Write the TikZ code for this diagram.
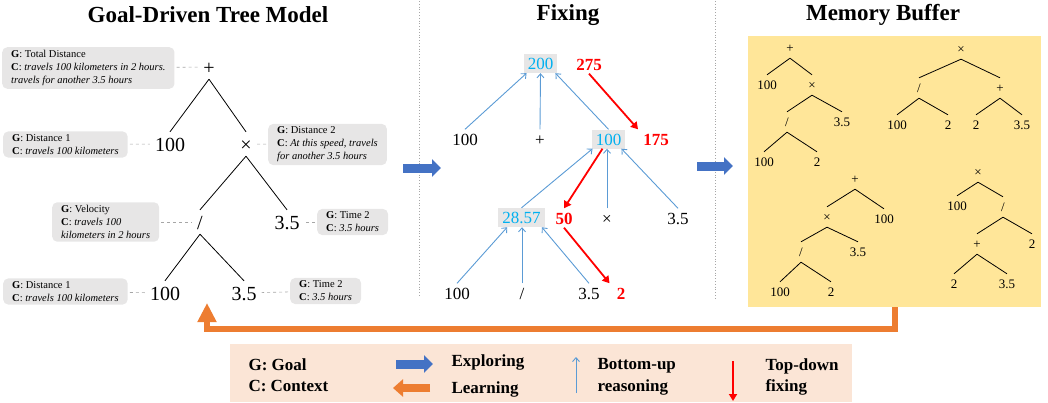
\documentclass[tikz,border=0pt]{standalone}
\usepackage{fontspec}
\setmainfont{Liberation Serif}
\usetikzlibrary{arrows.meta,positioning}

\definecolor{goalgray}{HTML}{E7E6E6}
\definecolor{valblue}{HTML}{00B0F0}
\definecolor{reasonblue}{HTML}{5B9BD5}
\definecolor{exploreblue}{HTML}{4472C4}
\definecolor{learnorange}{HTML}{ED7D31}
\definecolor{bufyellow}{HTML}{FFE699}
\definecolor{legendpeach}{HTML}{FBE5D6}
\definecolor{dashgray}{HTML}{A6A6A6}

\newcommand{\setfs}[2]{\fontsize{#1}{#2}\selectfont}

\begin{document}
\begin{tikzpicture}[x=1pt,y=-1pt]
  \useasboundingbox (0,0) rectangle (1048,402);
  \tikzstyle{title}=[font=\setfs{23}{27}\bfseries]
  \tikzstyle{tree node}=[font=\setfs{20}{24},inner xsep=0pt,inner ysep=5pt,text height=14pt,text depth=0pt]
  \tikzstyle{tree edge}=[line width=0.8pt]
  \tikzstyle{goal box}=[fill=goalgray,rounded corners=5pt,align=left,inner xsep=9pt,inner ysep=3pt,font=\setfs{10.5}{13}]
  \tikzstyle{goal link}=[draw=dashgray,dashed,line width=0.6pt,shorten <=2pt,shorten >=5pt]
  \tikzstyle{mid node}=[font=\setfs{17}{20},inner xsep=4pt,inner ysep=3.5pt,text height=12pt,text depth=0pt]
  \tikzstyle{value box}=[mid node,fill=goalgray,text=valblue]
  \tikzstyle{fix val}=[mid node,text=red,font=\setfs{17}{20}\bfseries]
  \tikzstyle{reason}=[draw=reasonblue,line width=0.9pt,-{Straight Barb[length=4pt,width=7pt]}]
  \tikzstyle{fix}=[draw=red,line width=1.8pt,-{Triangle[length=7pt,width=8pt]}]
  \tikzstyle{explore arrow}=[draw=exploreblue,line width=9pt,-{Triangle[length=9pt,width=17pt]}]
  \tikzstyle{learn arrow}=[draw=learnorange,line width=6pt,line join=miter,-{Triangle[length=19pt,width=18pt]}]
  \tikzstyle{mem node}=[font=\setfs{13}{15},inner xsep=0pt,inner ysep=5.5pt,text height=9pt,text depth=0pt]
  \tikzstyle{mem edge}=[line width=0.8pt]
  \tikzstyle{legend text}=[font=\setfs{17}{21.5}\bfseries,align=left]

  % panels
  \node[fill=bufyellow,inner sep=0pt,anchor=north west,minimum width=293pt,minimum height=271pt] (buffer) at (748,36) {};
  \node[fill=legendpeach,inner sep=0pt,anchor=north west,minimum width=622pt,minimum height=58pt] (legend) at (230,344) {};
  \draw[dashgray,dotted,line width=0.8pt] (419,1) -- (419,296);
  \draw[dashgray,dotted,line width=0.8pt] (715,1) -- (715,298);

  \node[title] (ttree) at (208,15) {Goal-Driven Tree Model};
  \node[title] (tfix) at (568,15) {Fixing};
  \node[title] (tbuf) at (883,15) {Memory Buffer};

  % goal-driven tree
  \node[tree node] (gplus) at (209,67) {+};
  \node[tree node] (g100a) at (170,144) {100};
  \node[tree node] (gtimes) at (246,144) {×};
  \node[tree node] (gdiv) at (200,222) {/};
  \node[tree node] (g35a) at (287,222) {3.5};
  \node[tree node] (g100b) at (165,293) {100};
  \node[tree node] (g35b) at (244,293) {3.5};
  \foreach \a/\b in {gplus/g100a,gplus/gtimes,gtimes/gdiv,gtimes/g35a,gdiv/g100b,gdiv/g35b}
    \draw[tree edge] (\a.south) -- (\b.north);

  \node[goal box,anchor=west] (ctotal) at (2,68) {\textbf{G}: Total Distance\\\textbf{C}: \textit{travels 100 kilometers in 2 hours.}\\\textit{travels for another 3.5 hours}};
  \node[goal box,anchor=west] (cdista) at (3,144.5) {\textbf{G}: Distance 1\\\textbf{C}: \textit{travels 100 kilometers}};
  \node[goal box,anchor=west] (cdistb) at (268,144.5) {\textbf{G}: Distance 2\\\textbf{C}: \textit{At this speed, travels}\\\textit{for another 3.5 hours}};
  \node[goal box,anchor=west] (cvel) at (52,222) {\textbf{G}: Velocity\\\textbf{C}: \textit{travels 100}\\\textit{kilometers in 2 hours}};
  \node[goal box,anchor=west] (ctimea) at (317,222) {\textbf{G}: Time 2\\\textbf{C}: \textit{3.5 hours}};
  \node[goal box,anchor=west] (cdistc) at (3,291.5) {\textbf{G}: Distance 1\\\textbf{C}: \textit{travels 100 kilometers}};
  \node[goal box,anchor=west] (ctimeb) at (290,291) {\textbf{G}: Time 2\\\textbf{C}: \textit{3.5 hours}};
  \draw[goal link] (ctotal) -- (gplus);
  \draw[goal link] (cdista) -- (g100a);
  \draw[goal link] (cdistb) -- (gtimes);
  \draw[goal link] (cvel) -- (gdiv);
  \draw[goal link] (ctimea) -- (g35a);
  \draw[goal link] (cdistc) -- (g100b);
  \draw[goal link] (ctimeb) -- (g35b);

  % fixing
  \node[value box] (f200) at (540.5,63.5) {200};
  \node[fix val] (f275) at (589,64) {275};
  \node[mid node] (f100a) at (465,139) {100};
  \node[mid node] (fplus) at (540,139) {+};
  \node[value box] (f100v) at (608.5,139) {100};
  \node[fix val] (f175) at (656,139) {175};
  \node[value box] (f2857) at (521.5,217.5) {28.57};
  \node[fix val] (f50) at (564,218) {50};
  \node[mid node] (ftimes) at (607,218) {×};
  \node[mid node] (f35a) at (678,218) {3.5};
  \node[mid node] (f100b) at (457,293) {100};
  \node[mid node] (fdiv) at (522,293) {/};
  \node[mid node] (f35b) at (589,293) {3.5};
  \node[fix val] (f2) at (621,293) {2};

  \draw[reason] (f100a.north) -- ([xshift=3pt]f200.south west);
  \draw[reason] (fplus.north) -- (f200.south);
  \draw[reason] (f100v.north) -- ([xshift=-2pt]f200.south east);
  \draw[reason] (f2857.north) -- ([xshift=1pt]f100v.south west);
  \draw[reason] (ftimes.north) -- (ftimes.north |- f100v.south);
  \draw[reason] (f35a.north) -- ([xshift=-4pt]f100v.south east);
  \draw[reason] (f100b.north) -- ([xshift=9pt]f2857.south west);
  \draw[reason] (fdiv.north) -- (fdiv.north |- f2857.south);
  \draw[reason] (f35b.north) -- ([xshift=-3pt]f2857.south east);
  \draw[fix] (f275.south) -- ([xshift=-1pt]f175.north west);
  \draw[fix] ([xshift=-6pt]f100v.south) -- (f50.north);
  \draw[fix] (f50.south) -- ([xshift=-3pt]f2.north west);

  % memory buffer
  \node[mem node] (ma1) at (790,48) {+};
  \node[mem node] (ma2) at (767,85) {100};
  \node[mem node] (ma3) at (812,85) {×};
  \node[mem node] (ma4) at (787,122) {/};
  \node[mem node] (ma5) at (842,122) {3.5};
  \node[mem node] (ma6) at (764,162) {100};
  \node[mem node] (ma7) at (817,162) {2};

  \node[mem node] (mb1) at (961,49) {×};
  \node[mem node] (mb2) at (919,88) {/};
  \node[mem node] (mb3) at (1000,88) {+};
  \node[mem node] (mb4) at (897,125) {100};
  \node[mem node] (mb5) at (948,125) {2};
  \node[mem node] (mb6) at (976,125) {2};
  \node[mem node] (mb7) at (1022,125) {3.5};

  \node[mem node] (mc1) at (855,179) {+};
  \node[mem node] (mc2) at (827,217) {×};
  \node[mem node] (mc3) at (884,219) {100};
  \node[mem node] (mc4) at (801,252) {/};
  \node[mem node] (mc5) at (858,252) {3.5};
  \node[mem node] (mc6) at (780,292) {100};
  \node[mem node] (mc7) at (831,292) {2};

  \node[mem node] (md1) at (978,172) {×};
  \node[mem node] (md2) at (957,206) {100};
  \node[mem node] (md3) at (1003,207) {/};
  \node[mem node] (md4) at (977,244) {+};
  \node[mem node] (md5) at (1032,244) {2};
  \node[mem node] (md6) at (954,284) {2};
  \node[mem node] (md7) at (1007,284) {3.5};

  \foreach \t in {a,b,c,d}{
    \draw[mem edge] (m\t1.south) -- (m\t2.north);
    \draw[mem edge] (m\t1.south) -- (m\t3.north);
  }
  \foreach \a/\b in {ma3/ma4,ma3/ma5,ma4/ma6,ma4/ma7,mb2/mb4,mb2/mb5,mb3/mb6,mb3/mb7,
                     mc2/mc4,mc2/mc5,mc4/mc6,mc4/mc7,md3/md4,md3/md5,md4/md6,md4/md7}
    \draw[mem edge] (\a.south) -- (\b.north);

  % exploring / learning
  \coordinate (exa) at (403,168);
  \coordinate (exb) at (441,168);
  \coordinate (exc) at (697,166);
  \coordinate (exd) at (733,166);
  \draw[explore arrow] (exa) -- (exb);
  \draw[explore arrow] (exc) -- (exd);
  \coordinate (learnend) at (207,303);
  \draw[learn arrow] (buffer.south) -- ++(0,22) -| (learnend);

  % legend
  \node[legend text,anchor=west] (lgc) at (245,375) {G: Goal\\C: Context};
  \node[legend text,anchor=west] (lexp) at (448,362) {Exploring};
  \node[legend text,anchor=west] (llearn) at (448,389) {Learning};
  \node[legend text,anchor=west] (lbot) at (594,377) {Bottom-up\\reasoning};
  \node[legend text,anchor=west] (ltop) at (762,377) {Top-down\\fixing};
  \draw[explore arrow] (lexp.west) ++(-52,2) -- ++(37,0);
  \draw[learn arrow,line width=8pt,-{Triangle[length=10pt,width=17pt]}] (llearn.west) ++(-18,-1) -- ++(-37,0);
  \draw[reason] (lbot.west) ++(-18,16) -- ++(0,-36);
  \draw[fix] (ltop.west) ++(-29,-16) -- ++(0,40);
\end{tikzpicture}
\end{document}
